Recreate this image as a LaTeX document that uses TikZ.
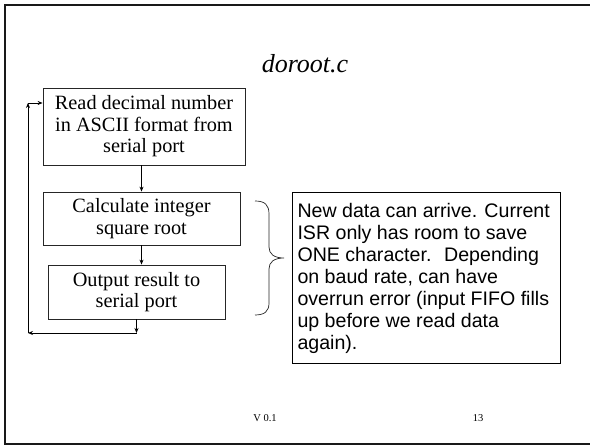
\documentclass[tikz,border=0pt]{standalone}
\usepackage{fontspec}
\setmainfont{Liberation Serif}
\newfontfamily\arialfont{Liberation Sans}
\usetikzlibrary{arrows.meta}
\begin{document}
\begin{tikzpicture}[x=1pt,y=-1pt,
  flowbox/.style={draw=black!85, line width=0.8pt, align=center, inner sep=0pt,
    font=\fontsize{20.3}{21.5}\selectfont},
  conn/.style={line width=0.8pt, -{Stealth[length=5pt,width=4pt]}},
  frameline/.style={line width=2.6pt, black!90}]
\useasboundingbox (0,0) rectangle (590,446);
% slide frame
\draw[frameline] (590,5) -- (5,5) -- (5,444) -- (590,444);
% title
\node (title) at (305,64) {\fontsize{26}{30}\selectfont\itshape doroot.c};
% flow boxes
\node[flowbox, minimum width=202, minimum height=77] (b1) at (144,126.5)
  {Read decimal number\\in ASCII format from\\serial port};
\node[flowbox, minimum width=197, minimum height=53] (b2) at (141.5,218.5)
  {Calculate integer\\square root};
\node[flowbox, minimum width=177, minimum height=54] (b3) at (136.5,292)
  {Output result to\\serial port};
% connectors
\draw[conn] (b2.north |- b1.south) -- (b2.north);
\draw[conn] (b2.south) -- (b2.south |- b3.north);
\coordinate (c1) at (136.5,333);
\coordinate (c2) at (28,333);
\coordinate (c3) at (28,103);
\coordinate (c4) at (b1.west |- c3);
\draw[conn] (b3.south) -- (c1);
\draw[conn] (c1) -- (c2);
\draw[conn] (c2) -- (c3);
\draw[conn] (c3) -- (c4);
% brace
\draw[line width=0.7pt, black!85] (255,201) .. controls (265,201) and (269,205) .. (269,214)
  -- (269,247) .. controls (269,254) and (274,258) .. (284,258)
  .. controls (274,258) and (269,262) .. (269,269)
  -- (269,303) .. controls (269,311) and (265,315) .. (255,315);
% note
\node[draw=black, line width=1pt, anchor=north west, inner sep=5pt] (note) at (292,192)
  {\parbox[t][161pt][t]{258pt}{\vspace*{6pt}\arialfont\fontsize{19.6}{21.9}\selectfont\raggedright
  New data can arrive. Current\\ISR only has room to save\\ONE character.~ Depending\\on baud rate, can have\\overrun error (input FIFO fills\\up before we read data\\again).}};
% footer
\node (ver) at (265,418) {\fontsize{10.5}{12}\selectfont V 0.1};
\node (pg) at (478,418) {\fontsize{10.5}{12}\selectfont 13};
\end{tikzpicture}
\end{document}
